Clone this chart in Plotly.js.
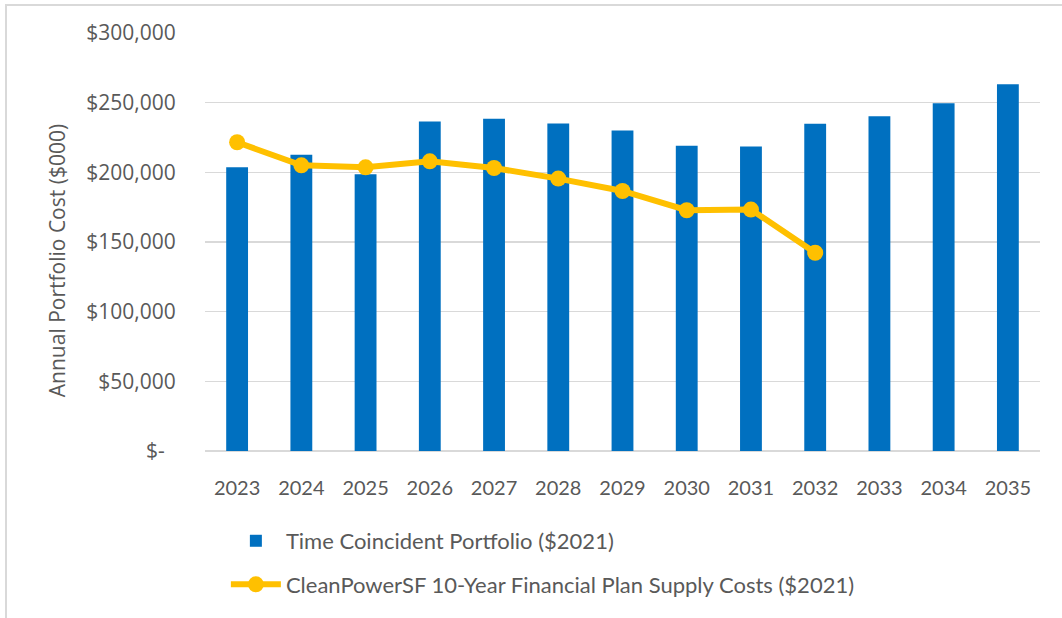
<!DOCTYPE html>
<html>
<head>
<meta charset="utf-8">
<script src="https://cdn.plot.ly/plotly-3.0.1.min.js"></script>
<style>
  html, body { margin: 0; padding: 0; background: #ffffff; overflow: hidden; width: 1062px; height: 618px; }
  #frame { position: absolute; left: 5px; top: 4px; width: 1055px; height: 612px;
           border-top: 2px solid #d9d9d9; border-left: 2px solid #d9d9d9; }
  #chart { position: absolute; left: 0; top: 0; width: 1062px; height: 618px; }
</style>
</head>
<body>
<div id="frame"></div>
<div id="chart"></div>
<script>
const years = ['2023','2024','2025','2026','2027','2028','2029','2030','2031','2032','2033','2034','2035'];
const portfolioCost = [203600, 212600, 198700, 236500, 238400, 235100, 230100, 219000, 218600, 234900, 240300, 249500, 263300];
const planYears = ['2023','2024','2025','2026','2027','2028','2029','2030','2031','2032'];
const planCost = [221600, 205000, 203600, 207900, 203100, 195500, 186600, 172800, 173300, 142300];
const yTickVals = [0, 50000, 100000, 150000, 200000, 250000, 300000];
const yTickText = ['$-\u00a0\u00a0', '$50,000', '$100,000', '$150,000', '$200,000', '$250,000', '$300,000'];
const seriesNames = ['Time Coincident Portfolio ($2021)', 'CleanPowerSF 10-Year Financial Plan Supply Costs ($2021)'];
const yTitle = 'Annual Portfolio Cost ($000)';

const data = [
  {
    type: 'bar', x: years, y: portfolioCost, name: seriesNames[0], legendgroup: 'a',
    marker: { color: '#0070C0' }, width: 0.34
  },
  {
    type: 'scatter', mode: 'lines+markers', x: planYears, y: planCost, name: seriesNames[1], legendgroup: 'b',
    line: { color: '#FFC000', width: 6 },
    marker: { color: '#FFC000', size: 16 }
  }
];

const layout = {
  width: 1062, height: 618,
  paper_bgcolor: 'rgba(0,0,0,0)', plot_bgcolor: 'rgba(0,0,0,0)',
  margin: { l: 205, r: 22, t: 33, b: 162 },
  font: { family: 'Open Sans, sans-serif', color: '#595959' },
  showlegend: true,
  xaxis: {
    type: 'category', automargin: false, range: [-0.5, 12.5], autorange: false,
    showgrid: false, zeroline: false, showline: false,
    ticks: 'outside', ticklen: 19, tickcolor: 'rgba(0,0,0,0)',
    tickfont: { family: 'Lato, sans-serif', size: 20, color: '#595959' }
  },
  yaxis: {
    automargin: false,
    range: [0, 300000], autorange: false, tickvals: yTickVals, ticktext: yTickText,
    showgrid: true, gridcolor: '#d9d9d9', gridwidth: 1.5,
    zeroline: true, zerolinecolor: '#d9d9d9', zerolinewidth: 1.5,
    showline: false, ticks: 'outside', ticklen: 24, tickcolor: 'rgba(0,0,0,0)',
    tickfont: { family: 'Open Sans, sans-serif', size: 21, color: '#595959' }
  },
  annotations: [{
    text: yTitle, xref: 'paper', yref: 'paper', x: -0.178, y: 0.455,
    xanchor: 'center', yanchor: 'middle', textangle: -90, showarrow: false,
    font: { family: 'Open Sans, sans-serif', size: 21, color: '#595959' }
  }],
  legend: {
    orientation: 'v', x: 0.025, xanchor: 'left', y: -0.165, yanchor: 'top',
    font: { family: 'Lato, sans-serif', size: 22, color: '#595959' },
    tracegroupgap: 12, itemwidth: 50, bgcolor: 'rgba(0,0,0,0)'
  }
};

Plotly.newPlot('chart', data, layout, { displayModeBar: false, staticPlot: true });
</script>
</body>
</html>
